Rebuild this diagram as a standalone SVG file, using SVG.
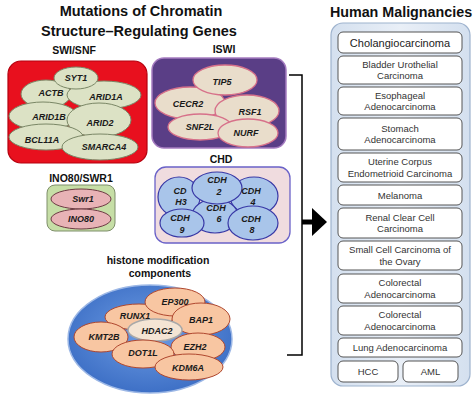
<svg xmlns="http://www.w3.org/2000/svg" width="475" height="400" viewBox="0 0 475 400">
<defs>
<radialGradient id="gBlue" cx="50%" cy="45%" r="55%">
<stop offset="0" stop-color="#6E9DE4"/>
<stop offset="1" stop-color="#3E70C6"/>
</radialGradient>
<linearGradient id="gPanel" x1="0" y1="0" x2="1" y2="0">
<stop offset="0" stop-color="#D4E0EF"/>
<stop offset="0.5" stop-color="#E9EFF7"/>
<stop offset="1" stop-color="#D4E0EF"/>
</linearGradient>
<marker id="arrowHead" viewBox="0 0 10 10" refX="0" refY="5" markerWidth="3" markerHeight="5.4" orient="auto" markerUnits="strokeWidth">
<path d="M0,0 L10,5 L0,10 Z" fill="#000"/>
</marker>
</defs>
<style>
text{font-family:"Liberation Sans",Arial,sans-serif;}
.title{font-size:14.5px;font-weight:bold;fill:#111;text-anchor:middle;}
.grp{font-size:10.5px;font-weight:bold;fill:#111;text-anchor:middle;}
.gene{font-size:9px;font-weight:bold;font-style:italic;fill:#1a1a1a;text-anchor:middle;}
.swi{fill:#DCE2C5;stroke:#7A8766;stroke-width:1;}
.iswi{fill:#E9DDCB;stroke:#D7718A;stroke-width:1.3;}
.ino{fill:#E8B3B6;stroke:#6E3A44;stroke-width:1;}
.chd{fill:#A9C5EA;stroke:#3838A6;stroke-width:1.2;}
.his{fill:#F8C6A2;stroke:#B0472E;stroke-width:1;}
.cbox{fill:#fff;stroke:#555;stroke-width:1;}
.ctext{font-size:9.5px;fill:#333;text-anchor:middle;}
.conn{fill:none;stroke:#000;stroke-width:1.5;}
</style>

<text class="title" x="141" y="16">Mutations of Chromatin</text>
<text class="title" x="139" y="36">Structure–Regulating Genes</text>

<g id="swisnf">
<text class="grp" x="74" y="54">SWI/SNF</text>
<rect x="8" y="61" width="139" height="102" rx="13" fill="#E8101E" stroke="#B5000E" stroke-width="1.2"/>
<ellipse class="swi" cx="46" cy="94" rx="25" ry="14"/>
<ellipse class="swi" cx="104" cy="95" rx="37" ry="14"/>
<ellipse class="swi" cx="76" cy="78" rx="22" ry="11"/>
<ellipse class="swi" cx="43" cy="116" rx="34" ry="14"/>
<ellipse class="swi" cx="99" cy="120" rx="32" ry="17"/>
<ellipse class="swi" cx="46" cy="137" rx="37" ry="13"/>
<ellipse class="swi" cx="100" cy="147" rx="38" ry="13"/>
<text class="gene" x="76" y="81">SYT1</text>
<text class="gene" x="51" y="96">ACTB</text>
<text class="gene" x="106" y="100">ARID1A</text>
<text class="gene" x="49" y="120">ARID1B</text>
<text class="gene" x="100" y="126">ARID2</text>
<text class="gene" x="42" y="143">BCL11A</text>
<text class="gene" x="104" y="150">SMARCA4</text>
</g>

<g id="iswi">
<text class="grp" x="224" y="53">ISWI</text>
<rect x="152" y="58" width="134" height="90" rx="12" fill="#5A3E86" stroke="#A57CC0" stroke-width="1.5"/>
<ellipse class="iswi" cx="190" cy="103" rx="35" ry="16"/>
<ellipse class="iswi" cx="225" cy="80" rx="32" ry="15"/>
<ellipse class="iswi" cx="247" cy="111" rx="32" ry="16"/>
<ellipse class="iswi" cx="200" cy="127" rx="32" ry="13"/>
<ellipse class="iswi" cx="248" cy="133" rx="30" ry="14"/>
<text class="gene" x="222" y="85">TIP5</text>
<text class="gene" x="188" y="107">CECR2</text>
<text class="gene" x="250" y="115">RSF1</text>
<text class="gene" x="200" y="130">SNF2L</text>
<text class="gene" x="246" y="136">NURF</text>
</g>

<g id="ino80">
<text class="grp" x="81" y="182">INO80/SWR1</text>
<rect x="47" y="185" width="68" height="46" rx="8" fill="#C6DEA6" stroke="#7E8F6A" stroke-width="1"/>
<ellipse class="ino" cx="81" cy="199" rx="30" ry="10"/>
<ellipse class="ino" cx="81" cy="219" rx="30" ry="10"/>
<text class="gene" x="83" y="202">Swr1</text>
<text class="gene" x="81" y="222">INO80</text>
</g>

<g id="chd">
<text class="grp" x="221" y="163">CHD</text>
<rect x="155" y="167" width="135" height="76" rx="11" fill="#F0DCDF" stroke="#6A62C8" stroke-width="1.3"/>
<ellipse class="chd" cx="179" cy="197" rx="21" ry="20"/>
<ellipse class="chd" cx="254" cy="196" rx="24" ry="19"/>
<ellipse class="chd" cx="215" cy="216" rx="23" ry="17"/>
<ellipse class="chd" cx="217" cy="188" rx="25" ry="16"/>
<ellipse class="chd" cx="182" cy="223" rx="22" ry="14"/>
<ellipse class="chd" cx="253" cy="223" rx="25" ry="17"/>
<text class="gene" x="217" y="183">CDH</text>
<text class="gene" x="219" y="195">2</text>
<text class="gene" x="180" y="194">CD</text>
<text class="gene" x="181" y="205">H3</text>
<text class="gene" x="251" y="194">CDH</text>
<text class="gene" x="253" y="205">4</text>
<text class="gene" x="216" y="211">CDH</text>
<text class="gene" x="219" y="222">6</text>
<text class="gene" x="180" y="221">CDH</text>
<text class="gene" x="182" y="233">9</text>
<text class="gene" x="251" y="222">CDH</text>
<text class="gene" x="252" y="233">8</text>
</g>

<g id="histone">
<text class="grp" x="158" y="264">histone modification</text>
<text class="grp" x="160" y="277">components</text>
<ellipse cx="150" cy="339" rx="82" ry="54" fill="url(#gBlue)" stroke="#9DB8E6" stroke-width="1.5"/>
<ellipse class="his" cx="139" cy="317" rx="34" ry="13"/>
<ellipse class="his" cx="175" cy="302" rx="30" ry="14"/>
<ellipse class="his" cx="201" cy="319" rx="29" ry="16"/>
<ellipse cx="155" cy="330" rx="27" ry="11" fill="#F4E4D4" stroke="#A8A8A8" stroke-width="1.5"/>
<ellipse class="his" cx="101" cy="337" rx="27" ry="15"/>
<ellipse class="his" cx="198" cy="347" rx="27" ry="14"/>
<ellipse class="his" cx="143" cy="354" rx="31" ry="14"/>
<ellipse class="his" cx="189" cy="367" rx="34" ry="13"/>
<text class="gene" x="175" y="305">EP300</text>
<text class="gene" x="135" y="319">RUNX1</text>
<text class="gene" x="201" y="323">BAP1</text>
<text class="gene" x="157" y="334">HDAC2</text>
<text class="gene" x="104" y="340">KMT2B</text>
<text class="gene" x="195" y="350">EZH2</text>
<text class="gene" x="143" y="356">DOT1L</text>
<text class="gene" x="188" y="371">KDM6A</text>
</g>

<g id="connectors">
<polyline class="conn" points="289,75 302,75 302,355 287,355"/>
<line x1="302" y1="222" x2="313" y2="222" stroke="#000" stroke-width="5"/>
<polygon points="312,208 327,222 312,236" fill="#000"/>
</g>

<g id="malignancies">
<text class="title" x="401" y="17" style="font-size:14.3px">Human Malignancies</text>
<rect x="331" y="23" width="139" height="363" rx="12" fill="url(#gPanel)" stroke="#9EB3CE" stroke-width="1.2"/>
<g id="m-cholangio"><rect class="cbox" x="338" y="32" width="124" height="21" rx="5"/><text class="ctext" x="400" y="46.5" style="font-size:11px;fill:#222">Cholangiocarcinoma</text></g>
<g id="m-bladder"><rect class="cbox" x="338" y="56" width="124" height="28" rx="5"/><text class="ctext" x="400" y="67.5">Bladder Urothelial</text><text class="ctext" x="400" y="79">Carcinoma</text></g>
<g id="m-esoph"><rect class="cbox" x="338" y="87" width="124" height="28" rx="5"/><text class="ctext" x="400" y="98.5">Esophageal</text><text class="ctext" x="400" y="110">Adenocarcinoma</text></g>
<g id="m-stomach"><rect class="cbox" x="338" y="118" width="124" height="32" rx="5"/><text class="ctext" x="400" y="131.5">Stomach</text><text class="ctext" x="400" y="143">Adenocarcinoma</text></g>
<g id="m-uterine"><rect class="cbox" x="338" y="153" width="124" height="29" rx="5"/><text class="ctext" x="400" y="165">Uterine Corpus</text><text class="ctext" x="400" y="177">Endometrioid Carcinoma</text></g>
<g id="m-melanoma"><rect class="cbox" x="338" y="185" width="124" height="20" rx="5"/><text class="ctext" x="400" y="198.5">Melanoma</text></g>
<g id="m-renal"><rect class="cbox" x="338" y="208" width="124" height="30" rx="5"/><text class="ctext" x="400" y="220.5">Renal Clear Cell</text><text class="ctext" x="400" y="232">Carcinoma</text></g>
<g id="m-smallcell"><rect class="cbox" x="338" y="241" width="124" height="29" rx="5"/><text class="ctext" x="400" y="253">Small Cell Carcinoma of</text><text class="ctext" x="400" y="265">the Ovary</text></g>
<g id="m-colo1"><rect class="cbox" x="338" y="274" width="124" height="29" rx="5"/><text class="ctext" x="400" y="286">Colorectal</text><text class="ctext" x="400" y="298">Adenocarcinoma</text></g>
<g id="m-colo2"><rect class="cbox" x="338" y="306" width="124" height="29" rx="5"/><text class="ctext" x="400" y="318">Colorectal</text><text class="ctext" x="400" y="330">Adenocarcinoma</text></g>
<g id="m-lung"><rect class="cbox" x="338" y="338" width="124" height="19" rx="5"/><text class="ctext" x="400" y="351">Lung Adenocarcinoma</text></g>
<g id="m-hcc"><rect class="cbox" x="338" y="361" width="60" height="21" rx="5"/><text class="ctext" x="368" y="375">HCC</text></g>
<g id="m-aml"><rect class="cbox" x="403" y="361" width="55" height="21" rx="5"/><text class="ctext" x="430.5" y="375">AML</text></g>
</g>
</svg>
